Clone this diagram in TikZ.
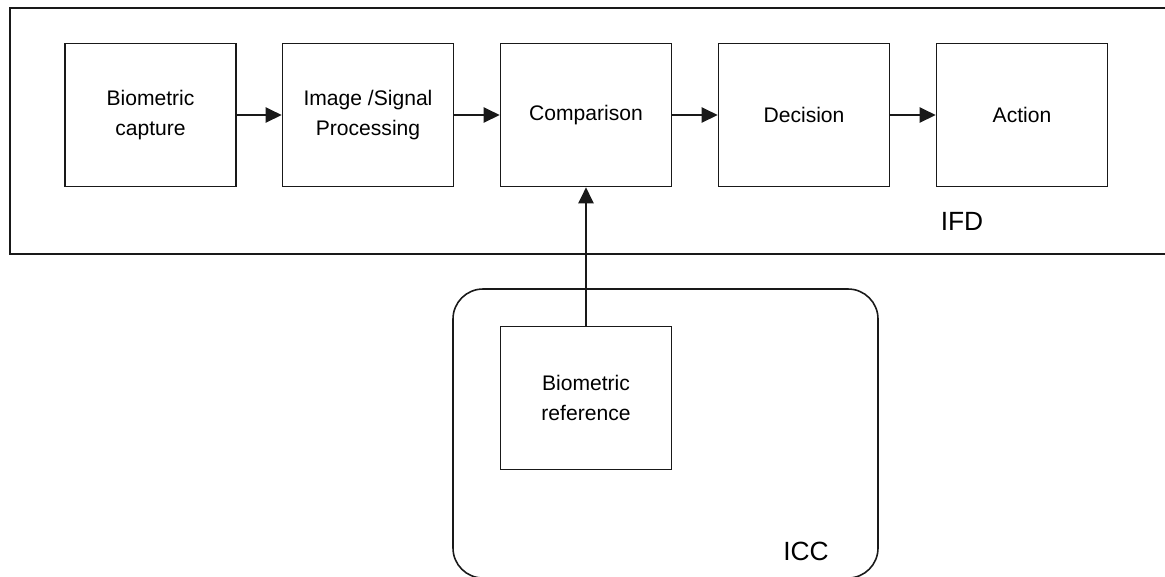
\documentclass[tikz,border=0pt]{standalone}
\usepackage{fontspec}
\setmainfont{Liberation Sans}
\usetikzlibrary{arrows.meta,positioning}

\begin{document}
\begin{tikzpicture}[
  x=0.02cm, y=-0.02cm,
  >={Triangle[length=0.32cm, width=0.30cm]},
  every node/.style={font=\fontsize{12pt}{17pt}\selectfont},
  stage/.style={rectangle, draw=black!90, line width=0.9pt, minimum width=3.42cm, minimum height=2.86cm, align=center, inner sep=0pt},
  zone/.style={font=\fontsize{15pt}{18pt}\selectfont},
  flow/.style={->, line width=1.2pt, black!90}
]
  \useasboundingbox (0,0) rectangle (1165,576);

  % terminal (IFD) and card (ICC) frames
  \draw[line width=0.9pt, black!90] (10,8) rectangle (1180,254);
  \draw[line width=0.9pt, black!90, rounded corners=0.6cm] (453,289) rectangle (878,578);

  \node[stage] (capture) at (150.5,115) {Biometric\\capture};
  \node[stage] (process) at (368,115) {Image /Signal\\Processing};
  \node[stage] (compare) at (586,115) {Comparison};
  \node[stage] (decide) at (804,115) {Decision};
  \node[stage] (act) at (1022,115) {Action};
  \node[stage] (ref) at (586,398) {Biometric\\reference};

  \node[zone] (ifd) at (962,221) {IFD};
  \node[zone] (icc) at (806,551) {ICC};

  \draw[flow] (capture.east) -- (process.west);
  \draw[flow] (process.east) -- (compare.west);
  \draw[flow] (compare.east) -- (decide.west);
  \draw[flow] (decide.east) -- (act.west);
  \draw[flow] (ref.north) -- (compare.south);
\end{tikzpicture}
\end{document}
